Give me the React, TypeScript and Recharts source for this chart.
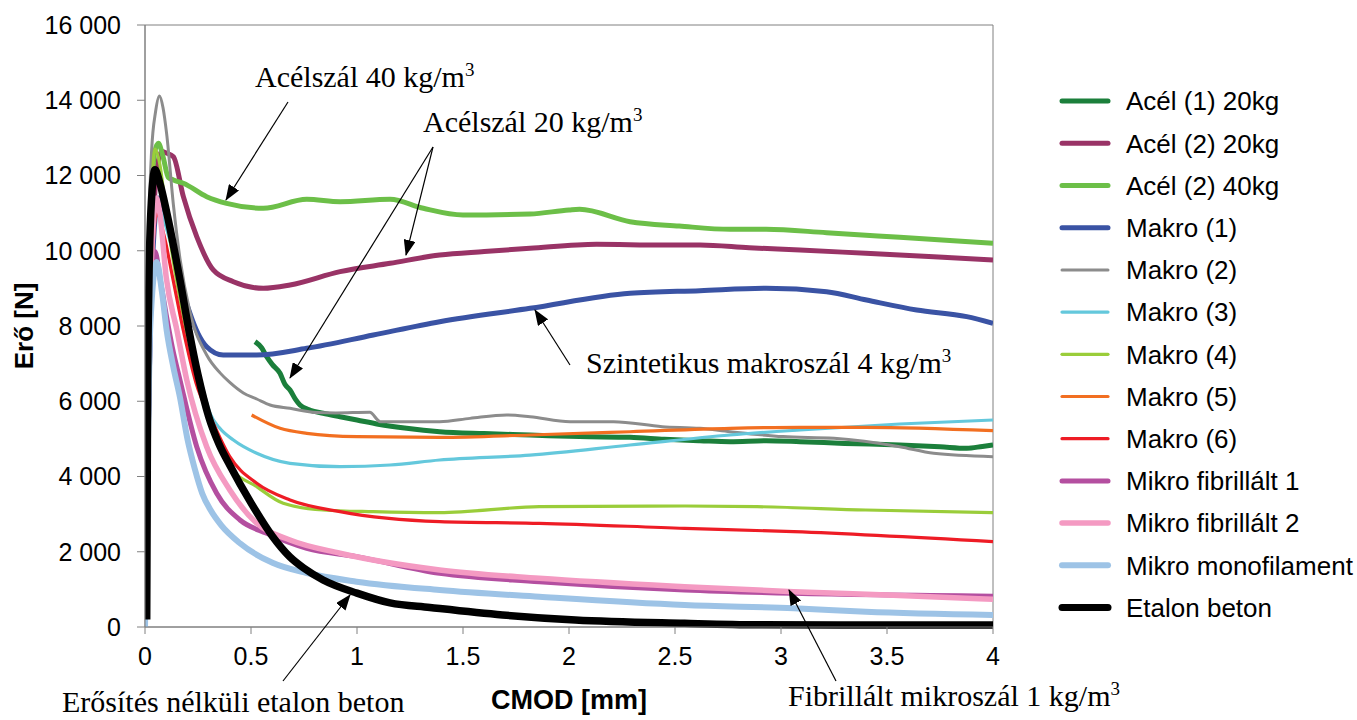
import React from 'react';
import { LineChart, Line, XAxis, YAxis, Legend, ReferenceArea, Label } from 'recharts';

type Pt = [number, number];

const X_TICKS = [0, 0.5, 1, 1.5, 2, 2.5, 3, 3.5, 4];
const Y_TICKS = [0, 2000, 4000, 6000, 8000, 10000, 12000, 14000, 16000];

const acel1_20kg: Pt[] = [
  [0.519, 7584], [0.55, 7420], [0.574, 7185], [0.6, 6980], [0.637, 6743], [0.66, 6450], [0.684, 6300],
  [0.71, 6050], [0.731, 5900], [0.78, 5760], [0.84, 5680], [0.92, 5590], [1.0, 5502], [1.1, 5390],
  [1.234, 5280], [1.39, 5190], [1.6, 5140], [1.816, 5103], [2.05, 5060], [2.288, 5040], [2.45, 4990],
  [2.618, 4952], [2.76, 4925], [2.93, 4950], [3.09, 4925], [3.3, 4880], [3.56, 4837], [3.75, 4790],
  [3.876, 4750], [3.95, 4800], [4.0, 4837],
];
const acel2_20kg: Pt[] = [
  [0, 0], [0.012, 4000], [0.03, 9500], [0.06, 12300], [0.079, 12640], [0.1, 12600], [0.134, 12500],
  [0.181, 11437], [0.244, 10374], [0.322, 9489], [0.417, 9178], [0.558, 9002], [0.684, 9090],
  [0.92, 9444], [1.156, 9666], [1.39, 9887], [1.6, 9980], [1.816, 10065], [2.13, 10172], [2.44, 10153],
  [2.618, 10153], [2.85, 10080], [3.09, 10020], [3.4, 9932], [3.72, 9843], [4.0, 9755],
];
const acel2_40kg: Pt[] = [
  [0, 0], [0.01, 4500], [0.025, 10500], [0.045, 12600], [0.063, 12856], [0.085, 12500], [0.11, 11950],
  [0.134, 11881], [0.181, 11793], [0.291, 11437], [0.385, 11260], [0.558, 11128], [0.763, 11367],
  [0.92, 11304], [1.156, 11367], [1.313, 11128], [1.5, 10950], [1.816, 10977], [2.0, 11083],
  [2.05, 11100], [2.288, 10772], [2.52, 10657], [2.76, 10570], [2.93, 10570], [3.215, 10480],
  [3.56, 10357], [4.0, 10198],
];
const makro1: Pt[] = [
  [0, 0], [0.012, 4000], [0.03, 9000], [0.063, 11400], [0.1, 10800], [0.135, 10000], [0.165, 9223],
  [0.212, 8338], [0.25, 7800], [0.291, 7450], [0.369, 7230], [0.527, 7230], [0.763, 7407],
  [1.077, 7761], [1.39, 8115], [1.816, 8470], [2.288, 8869], [2.618, 8939], [2.93, 9002],
  [3.215, 8913], [3.404, 8691], [3.64, 8426], [3.876, 8248], [4.0, 8071],
];
const makro2: Pt[] = [
  [0, 0], [0.008, 4000], [0.016, 9790], [0.031, 12640], [0.05, 13700], [0.068, 14113], [0.085, 13800],
  [0.102, 13113], [0.134, 11216], [0.165, 9790], [0.212, 8372], [0.291, 7230], [0.354, 6754],
  [0.4, 6500], [0.464, 6220], [0.527, 6060], [0.59, 5900], [0.684, 5813], [0.81, 5700], [0.9, 5690],
  [1.06, 5706], [1.11, 5457], [1.39, 5457], [1.533, 5545], [1.706, 5635], [1.816, 5590],
  [2.005, 5457], [2.21, 5457], [2.44, 5324], [2.618, 5280], [2.76, 5190], [3.01, 5060], [3.25, 5015],
  [3.56, 4792], [3.72, 4616], [4.0, 4527],
];
const makro3: Pt[] = [
  [0, 0], [0.012, 4000], [0.03, 9000], [0.055, 11200], [0.09, 10800], [0.13, 10000], [0.18, 8900],
  [0.23, 7300], [0.27, 6400], [0.307, 5680], [0.35, 5300], [0.417, 4970], [0.527, 4617],
  [0.684, 4350], [0.92, 4260], [1.156, 4305], [1.39, 4438], [1.816, 4570], [2.288, 4837],
  [2.76, 5103], [3.09, 5236], [3.56, 5395], [4.0, 5502],
];
const makro4: Pt[] = [
  [0, 0], [0.012, 4500], [0.025, 10000], [0.047, 12700], [0.07, 12300], [0.1, 11000], [0.14, 9500],
  [0.19, 8000], [0.25, 6600], [0.32, 5300], [0.4, 4260], [0.527, 3730], [0.652, 3290], [0.84, 3110],
  [1.076, 3065], [1.39, 3040], [1.86, 3198], [2.545, 3216], [2.887, 3198], [3.4, 3110], [4.0, 3038],
];
const makro5: Pt[] = [
  [0.503, 5635], [0.637, 5280], [0.763, 5148], [1.0, 5060], [1.39, 5040], [1.816, 5103],
  [2.288, 5190], [2.76, 5280], [3.09, 5307], [3.4, 5307], [4.0, 5218],
];
const makro6: Pt[] = [
  [0, 0], [0.012, 4000], [0.03, 9000], [0.055, 11000], [0.09, 10400], [0.13, 9300], [0.18, 7900],
  [0.24, 6500], [0.322, 5414], [0.4, 4526], [0.527, 3819], [0.684, 3375], [0.92, 3065], [1.39, 2800],
  [1.86, 2756], [2.545, 2623], [3.06, 2534], [4.0, 2268],
];
const mikroFib1: Pt[] = [
  [0, 0], [0.01, 4000], [0.025, 8500], [0.047, 9983], [0.07, 9300], [0.1, 8300], [0.13, 7400],
  [0.165, 6565], [0.244, 4790], [0.338, 3553], [0.448, 2844], [0.574, 2490], [0.763, 2090],
  [0.998, 1870], [1.39, 1425], [1.86, 1205], [2.545, 983], [3.06, 895], [4.0, 820],
];
const mikroFib2: Pt[] = [
  [0, 0], [0.01, 4000], [0.025, 9000], [0.055, 11400], [0.07, 11000], [0.1, 9300], [0.15, 7900],
  [0.197, 6565], [0.291, 4790], [0.4, 3640], [0.527, 2756], [0.684, 2312], [0.92, 1960], [1.39, 1515],
  [1.86, 1294], [2.545, 1072], [3.06, 940], [3.5, 850], [4.0, 735],
];
const mikroMono: Pt[] = [
  [0, 0], [0.01, 3500], [0.025, 8000], [0.055, 9700], [0.08, 8900], [0.102, 7894], [0.134, 6900],
  [0.165, 6100], [0.2, 5000], [0.235, 4200], [0.27, 3550], [0.31, 3100], [0.36, 2700], [0.448, 2225],
  [0.604, 1700], [0.763, 1435], [0.998, 1205], [1.39, 983], [1.86, 805], [2.545, 585], [3.06, 497],
  [3.4, 407], [4.0, 320],
];
const etalon: Pt[] = [
  [0.008, 200], [0.01, 3000], [0.012, 6000], [0.018, 9000], [0.03, 11300], [0.047, 12150],
  [0.07, 11800], [0.102, 11030], [0.165, 9223], [0.21, 7800], [0.25, 6700], [0.3, 5600],
  [0.35, 4850], [0.4, 4300], [0.5, 3300], [0.6, 2420], [0.684, 1860], [0.75, 1560], [0.84, 1250],
  [1.0, 900], [1.156, 640], [1.344, 520], [1.687, 320], [2.03, 186], [2.545, 98], [2.887, 60],
  [3.5, 50], [4.0, 50],
];

const SERIES = [
  { name: 'Acél (1) 20kg', pts: acel1_20kg, color: '#1B7F3B', width: 5 },
  { name: 'Acél (2) 20kg', pts: acel2_20kg, color: '#993366', width: 5 },
  { name: 'Acél (2) 40kg', pts: acel2_40kg, color: '#6CBF48', width: 5 },
  { name: 'Makro (1)', pts: makro1, color: '#3A53A4', width: 5 },
  { name: 'Makro (2)', pts: makro2, color: '#8C8C8C', width: 3 },
  { name: 'Makro (3)', pts: makro3, color: '#64C8DC', width: 3.2 },
  { name: 'Makro (4)', pts: makro4, color: '#9ACD3A', width: 3.2 },
  { name: 'Makro (5)', pts: makro5, color: '#F26F21', width: 3.2 },
  { name: 'Makro (6)', pts: makro6, color: '#EE1C25', width: 3.2 },
  { name: 'Mikro fibrillált 1', pts: mikroFib1, color: '#B44FA0', width: 5 },
  { name: 'Mikro fibrillált 2', pts: mikroFib2, color: '#F49AC2', width: 5.5 },
  { name: 'Mikro monofilament', pts: mikroMono, color: '#9DC3E6', width: 6 },
  { name: 'Etalon beton', pts: etalon, color: '#000000', width: 7.5 },
];

const SANS = "'Liberation Sans', Arial, sans-serif";
const SERIF = "'Liberation Serif', 'Times New Roman', serif";
const GRAY = '#808080';

const fmtY = (v: number) => (v === 0 ? '0' : `${Math.round(v / 1000)} 000`);

const renderLegend = () => (
  <svg width={302} height={560} style={{ overflow: 'visible' }}>
    {SERIES.map((s, i) => {
      const cy = 21.1 + i * 42.2;
      return (
        <g key={s.name}>
          <line x1={7} x2={53} y1={cy} y2={cy} stroke={s.color} strokeWidth={Math.min(s.width, 7)} strokeLinecap="round" />
          <text x={71} y={cy} dy="0.36em" fontSize={26} fontFamily={SANS} fill="#000">{s.name}</text>
        </g>
      );
    })}
  </svg>
);

const Sup = ({ children }: { children: React.ReactNode }) => (
  <tspan fontSize={19} dy={-11}>{children}</tspan>
);

const Arrow = ({ x1, y1, x2, y2 }: { x1: number; y1: number; x2: number; y2: number }) => (
  <line x1={x1} y1={y1} x2={x2} y2={y2} stroke="#000" strokeWidth={1.2} markerEnd="url(#ah)" />
);

export default function App() {
  return (
    <div style={{ position: 'absolute', left: 0, top: 0, width: 1357, height: 720, background: '#fff' }}>
      <LineChart width={1357} height={720} margin={{ top: 25, right: 364, bottom: 0, left: 0 }}>
        <ReferenceArea x1={0} x2={4} y1={0} y2={16000} fill="none" stroke={GRAY} strokeWidth={1} ifOverflow="visible" />
        <XAxis
          type="number"
          dataKey="x"
          domain={[0, 4]}
          ticks={X_TICKS}
          interval={0}
          height={93}
          tickSize={7}
          tickMargin={13}
          axisLine={{ stroke: GRAY }}
          tickLine={{ stroke: GRAY }}
          tick={{ fill: '#000', fontSize: 25, fontFamily: SANS }}
          allowDataOverflow
        >
          <Label
            content={(p: any) => {
              const vb = p.viewBox || { x: 145, y: 627, width: 848 };
              return (
                <text x={vb.x + vb.width / 2} y={vb.y + 82} textAnchor="middle" fontSize={27} fontWeight="bold" fontFamily={SANS} fill="#000">
                  CMOD [mm]
                </text>
              );
            }}
          />
        </XAxis>
        <YAxis
          type="number"
          domain={[0, 16000]}
          ticks={Y_TICKS}
          interval={0}
          width={145}
          tickSize={8}
          tickMargin={16}
          tickFormatter={fmtY}
          axisLine={{ stroke: GRAY }}
          tickLine={{ stroke: GRAY }}
          tick={{ fill: '#000', fontSize: 25, fontFamily: SANS }}
        >
          <Label
            content={(p: any) => {
              const vb = p.viewBox || { x: 0, y: 25, height: 602 };
              const cx = vb.x + 33;
              const cy = vb.y + vb.height / 2;
              return (
                <text x={cx} y={cy} transform={`rotate(-90, ${cx}, ${cy})`} textAnchor="middle" fontSize={26} fontWeight="bold" fontFamily={SANS} fill="#000">
                  Erő [N]
                </text>
              );
            }}
          />
        </YAxis>
        <Legend
          layout="horizontal"
          verticalAlign="middle"
          align="center"
          content={renderLegend}
          wrapperStyle={{ left: 1055, top: 80, width: 302, height: 560 }}
        />
        {SERIES.map((s) => (
          <Line
            key={s.name}
            name={s.name}
            data={s.pts.map(([x, y]) => ({ x, y }))}
            dataKey="y"
            type="monotone"
            stroke={s.color}
            strokeWidth={s.width}
            strokeLinejoin="round"
            dot={false}
            activeDot={false}
            isAnimationActive={false}
            legendType="line"
          />
        ))}
      </LineChart>
      <svg width={1357} height={720} style={{ position: 'absolute', left: 0, top: 0, pointerEvents: 'none' }}>
        <defs>
          <marker id="ah" markerUnits="userSpaceOnUse" markerWidth={16} markerHeight={12} refX={15} refY={6} orient="auto">
            <path d="M0,0 L16,6 L0,12 Z" fill="#000" />
          </marker>
        </defs>
        <g fontFamily={SERIF} fontSize={30} fill="#000">
          <text x={255} y={87}>Acélszál 40 kg/m<Sup>3</Sup></text>
          <text x={423} y={132}>Acélszál 20 kg/m<Sup>3</Sup></text>
          <text x={586} y={373}>Szintetikus makroszál 4 kg/m<Sup>3</Sup></text>
          <text x={62} y={712}>Erősítés nélküli etalon beton</text>
          <text x={788} y={706}>Fibrillált mikroszál 1 kg/m<Sup>3</Sup></text>
        </g>
        <Arrow x1={288} y1={102} x2={226} y2={200} />
        <Arrow x1={433} y1={147} x2={406} y2={255} />
        <Arrow x1={433} y1={147} x2={290} y2={378} />
        <Arrow x1={570} y1={365} x2={535} y2={310} />
        <Arrow x1={283} y1={681} x2={350} y2={595} />
        <Arrow x1={836} y1={681} x2={789} y2={590} />
      </svg>
    </div>
  );
}
